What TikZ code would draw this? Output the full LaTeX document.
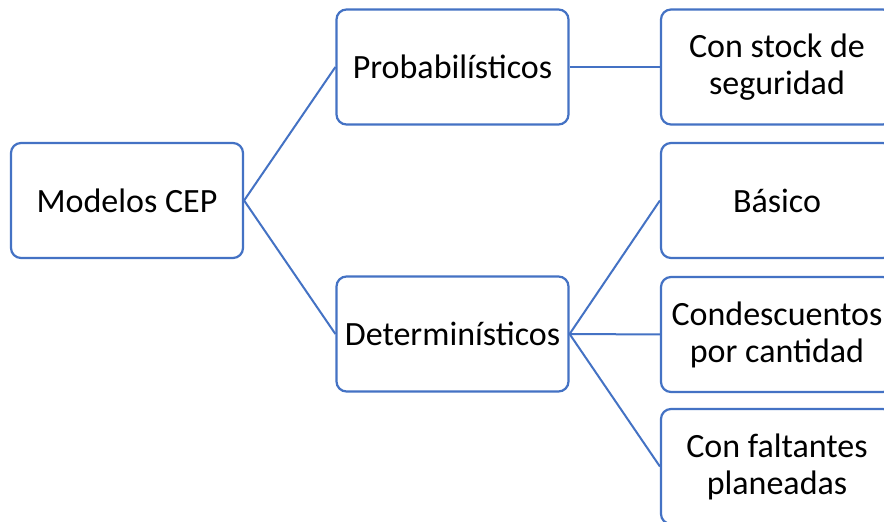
\documentclass[tikz,border=0pt]{standalone}
\usepackage{fontspec}
\setmainfont{Carlito}
\definecolor{boxblue}{HTML}{4472C4}
\begin{document}
\begin{tikzpicture}[x=0.5pt,y=-0.5pt,
  box/.style={draw=boxblue, line width=1.1pt, rounded corners=5pt, fill=white,
    minimum width=116pt, minimum height=57.5pt, align=center, inner sep=0pt,
    font=\fontsize{17}{18.5}\selectfont, text=black},
  link/.style={draw=boxblue, line width=1pt}]
\useasboundingbox (0,0) rectangle (884,522);
\clip (0,0) rectangle (884,522);
\fill[white] (0,0) rectangle (884,522);
\node[box] (root) at (127,200.5) {Modelos CEP};
\node[box] (prob) at (452.5,67) {Probabilísticos};
\node[box] (det) at (452.5,334) {Determinísticos};
\node[box] (stock) at (777,67) {Con stock de\\seguridad};
\node[box] (bas) at (777,200.5) {Básico};
\node[box] (desc) at (777,334.5) {Condescuentos\\por cantidad};
\node[box] (falt) at (777,466.5) {Con faltantes\\planeadas};
\draw[link] (root.east) -- (prob.west);
\draw[link] (root.east) -- (det.west);
\draw[link] (prob.east) -- (stock.west);
\draw[link] (det.east) -- (bas.west);
\draw[link] (det.east) -- (desc.west);
\draw[link] (det.east) -- (falt.west);
\end{tikzpicture}
\end{document}
